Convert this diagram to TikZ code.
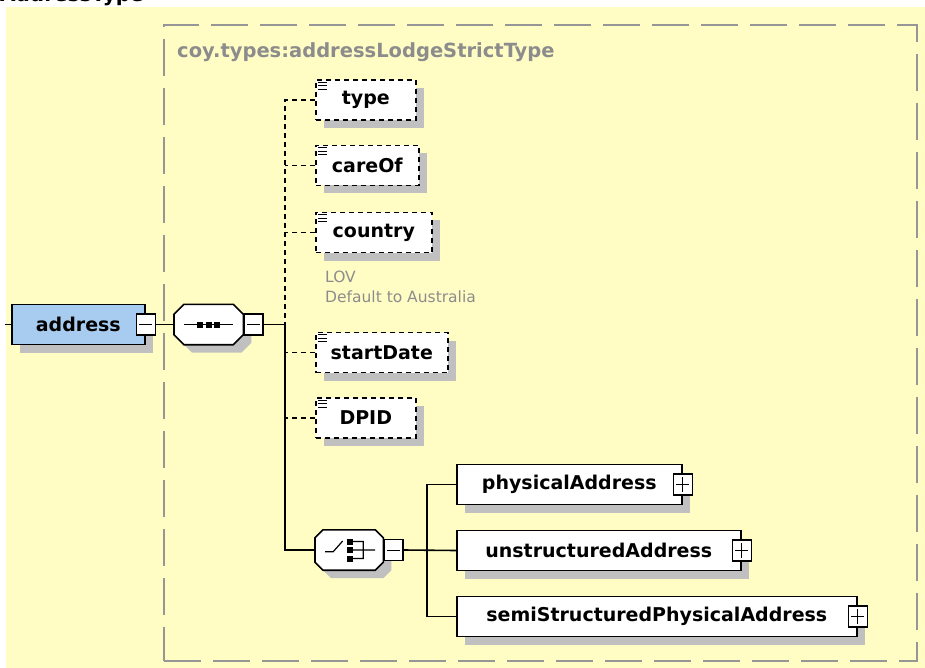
\documentclass[tikz,border=0pt]{standalone}
\usepackage{fontspec}
\setmainfont{DejaVu Sans}
\usepackage{xcolor}
\usepackage{tikz}
\usetikzlibrary{shadows}
\definecolor{bgyellow}{RGB}{255,253,196}
\definecolor{framegray}{RGB}{150,150,150}
\definecolor{shadowgray}{RGB}{192,192,192}
\definecolor{addrblue}{RGB}{168,204,240}
\definecolor{notegray}{RGB}{140,140,140}

\begin{document}
\begin{tikzpicture}[x=1pt,y=-1pt,
shd/.style={drop shadow={shadow xshift=8pt,shadow yshift=-8pt,fill=shadowgray,opacity=1}},
elem/.style={draw,line width=1.6pt,fill=white,shd,minimum height=40pt,inner sep=0pt,font=\fontsize{19}{22}\selectfont\bfseries},
optelem/.style={elem,dash pattern=on 5pt off 4pt},
grp/.style={minimum height=40pt,inner sep=0pt},
signbox/.style={draw,fill=white,line width=1.2pt,minimum width=19pt,minimum height=21pt,inner sep=0pt},
minusbox/.style={signbox,path picture={\draw[line width=1pt]([xshift=3pt]path picture bounding box.west)--([xshift=-3pt]path picture bounding box.east);}},
plusbox/.style={signbox,path picture={\draw[line width=1pt]([xshift=3pt]path picture bounding box.west)--([xshift=-3pt]path picture bounding box.east)
([yshift=-3pt]path picture bounding box.north)--([yshift=3pt]path picture bounding box.south);}},
conn/.style={line width=1.6pt},
optconn/.style={conn,dash pattern=on 5pt off 4pt}]
\useasboundingbox(0,0)rectangle(925,668);
\fill[bgyellow](6,7)rectangle(925,668);
\node[anchor=base west,inner sep=0pt,font=\fontsize{20}{24}\selectfont\bfseries](title)at(0,1.5){AddressType};
\node[draw=framegray,line width=2pt,dash pattern=on 37pt off 12pt,minimum width=753pt,minimum height=636pt,anchor=north west](frame)at(163,24){};
\node[anchor=base west,inner sep=0pt,text=notegray,font=\fontsize{19.5}{23}\selectfont\bfseries](ctype)at(177,58){coy.types:addressLodgeStrictType};

\node[elem,fill=addrblue,minimum width=133pt,anchor=west](addr)at(11,324.5){address};
\node[minusbox](addrm)at(addr.east){};
\node[grp,minimum width=69pt,anchor=west](seq)at(174,324.5){};
\node[grp,minimum width=68pt,anchor=west](chc)at(315,550){};
\foreach \g/\c in {seq/10,chc/8}
\filldraw[fill=white,line width=1.6pt,shd]([xshift=\c]\g.north west)--([xshift=-\c]\g.north east)--([yshift=-\c]\g.north east)--([yshift=\c]\g.south east)
--([xshift=-\c]\g.south east)--([xshift=\c]\g.south west)--([yshift=\c]\g.south west)--([yshift=-\c]\g.north west)--cycle;
\node[minusbox,anchor=west](seqm)at(seq.east){};
\node[minusbox,anchor=west](chcm)at(chc.east){};

\draw[line width=1.2pt]([xshift=10pt]seq.west)--([xshift=-10pt]seq.east);
\foreach \d in {-8.5,0,8.5}
\fill([xshift=\d]seq.center)+(-3,-3)rectangle+(3,3);
\draw[line width=1.2pt,shift={(chc.center)}](-24,1.7)--(-16,1.7)--(-6.5,-9)
(4,-8.5)--(14,-8.5)--(14,8.5)--(4,8.5)
(4,0)--(26,0);
\foreach \d in {-8.5,0,8.5}
\fill[shift={(chc.center)}](-2.5,\d-3)rectangle(3.5,\d+3);

\foreach \n/\y/\w in {type/100/100,careOf/165.5/103,country/232.5/116,startDate/352.5/132,DPID/418/100}{
\node[optelem,minimum width=\w,anchor=west](\n)at(315,\y){\n};
\foreach \k in {3,6.5,10}
\draw[line width=0.9pt]([shift={(3,\k)}]\n.north west)--++(9,0);
}
\node[anchor=base west,inner sep=0pt,text=notegray,font=\fontsize{15.5}{19}\selectfont](lov)at(325,282){LOV};
\node[anchor=base west,inner sep=0pt,text=notegray,font=\fontsize{15.5}{19}\selectfont](deflt)at(325,302){Default to Australia};

\foreach \n/\t/\y/\w in {phys/physicalAddress/484.5/225,unstr/unstructuredAddress/550.5/284,semi/semiStructuredPhysicalAddress/616.5/400}{
\node[elem,minimum width=\w,anchor=west](\n)at(456,\y){\t};
\node[plusbox](\n-p)at(\n.east){};
}

\coordinate(in)at(5,324.5);
\coordinate(bus)at(285,324.5);
\coordinate(bus2)at(427,550);
\draw[conn](in)--(addr.west);
\draw[conn](addrm.east)--(seq.west);
\draw[conn](seqm.east)--(bus)|-(chc.west);
\draw[optconn](type.west)-|(bus);
\foreach \n in {careOf,country,startDate,DPID}
\draw[optconn](\n.west)--(\n.west-|bus);
\draw[conn](chcm.east)--(unstr.west);
\draw[conn](phys.west)-|(bus2)|-(semi.west);
\end{tikzpicture}
\end{document}
